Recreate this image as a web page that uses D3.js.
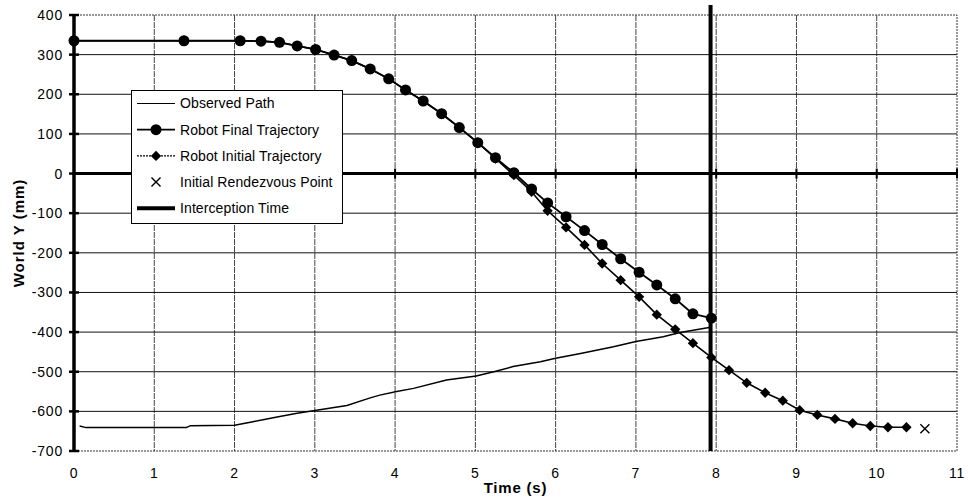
<!DOCTYPE html>
<html>
<head>
<meta charset="utf-8">
<script src="https://cdn.jsdelivr.net/npm/d3@7/dist/d3.min.js"></script>
<style>
  html, body { margin: 0; padding: 0; background: #fff; }
  svg { display: block; font-family: "Liberation Sans", Arial, Helvetica, sans-serif; }
</style>
</head>
<body>
<svg id="chart" width="968" height="499"></svg>
<script>
// Time samples (s) and world Y (mm) for each series
const finalT = [0, 1.37, 2.07, 2.33, 2.56, 2.78, 3.01, 3.24, 3.46, 3.69, 3.92, 4.13, 4.35, 4.58, 4.80, 5.03, 5.25, 5.48, 5.70, 5.90, 6.13, 6.36, 6.58, 6.81, 7.04, 7.26, 7.49, 7.71, 7.94];
const finalY = [335, 335, 335, 334, 331, 322, 313, 299, 285, 264, 239, 211, 183, 151, 116, 78, 40, 2, -39, -74, -109, -144, -179, -215, -249, -281, -316, -354, -365];

const initialT = [0, 1.37, 2.07, 2.33, 2.56, 2.78, 3.01, 3.24, 3.46, 3.69, 3.92, 4.13, 4.35, 4.58, 4.80, 5.03, 5.25, 5.48, 5.70, 5.90, 6.13, 6.36, 6.58, 6.81, 7.04, 7.26, 7.49, 7.71, 7.94, 8.16, 8.38, 8.61, 8.83, 9.04, 9.26, 9.48, 9.70, 9.92, 10.14, 10.37];
const initialY = [335, 335, 335, 334, 331, 322, 313, 299, 285, 264, 239, 211, 183, 151, 116, 78, 38, -4, -46, -94, -136, -180, -227, -269, -311, -356, -393, -428, -464, -496, -528, -553, -573, -597, -609, -619, -630, -637, -640, -640];

const observedT = [0.07, 0.15, 1.40, 1.45, 2.00, 2.23, 2.53, 2.78, 3.02, 3.40, 3.69, 3.81, 4.02, 4.23, 4.64, 5.01, 5.23, 5.47, 5.81, 6.00, 6.31, 6.72, 7.00, 7.34, 7.55, 7.93];
const observedY = [-637, -641, -641, -636, -635, -626, -614, -605, -597, -585, -566, -559, -550, -542, -521, -511, -500, -487, -475, -466, -454, -437, -424, -412, -401, -388];

const rendezvousT = [10.60];
const rendezvousY = [-644];

const interceptT = [7.93, 7.93];
const interceptY = [425, -700];

const xTicks = [0, 1, 2, 3, 4, 5, 6, 7, 8, 9, 10, 11];
const yTicks = [400, 300, 200, 100, 0, -100, -200, -300, -400, -500, -600, -700];

const legendLabels = ["Observed Path", "Robot Final Trajectory", "Robot Initial Trajectory", "Initial Rendezvous Point", "Interception Time"];

const zip = (ts, ys) => ts.map((t, i) => ({ t, y: ys[i] }));

const svg = d3.select("#chart");
const plotL = 74, plotR = 957, plotT = 15, plotB = 451;

const x = d3.scaleLinear().domain([0, 11]).range([plotL, plotR]);
const y = d3.scaleLinear().domain([-700, 400]).range([plotB, plotT]);

// vertical gridlines
svg.append("g").selectAll("line")
  .data(xTicks.filter(d => d > 0 && d < 11))
  .join("line")
  .attr("x1", d => x(d)).attr("x2", d => x(d))
  .attr("y1", plotT).attr("y2", plotB)
  .attr("stroke", "#444").attr("stroke-width", 1)
  .attr("stroke-dasharray", "6,1");

// horizontal gridlines
svg.append("g").selectAll("line")
  .data(yTicks.filter(d => d > -700 && d < 400 && d !== 0))
  .join("line")
  .attr("x1", plotL).attr("x2", plotR)
  .attr("y1", d => y(d)).attr("y2", d => y(d))
  .attr("stroke", "#111").attr("stroke-width", 1);

// plot area border (dotted)
svg.append("rect")
  .attr("x", plotL).attr("y", plotT)
  .attr("width", plotR - plotL).attr("height", plotB - plotT)
  .attr("fill", "none").attr("stroke", "#333").attr("stroke-width", 1)
  .attr("stroke-dasharray", "2,1");

// horizontal axis through zero
svg.append("line")
  .attr("x1", plotL).attr("x2", plotR)
  .attr("y1", y(0)).attr("y2", y(0))
  .attr("stroke", "#000").attr("stroke-width", 3);
svg.append("g").selectAll("line")
  .data(xTicks)
  .join("line")
  .attr("x1", d => x(d)).attr("x2", d => x(d))
  .attr("y1", y(0) - 5).attr("y2", y(0) + 5)
  .attr("stroke", "#000").attr("stroke-width", 2);

// vertical axis
svg.append("line")
  .attr("x1", plotL).attr("x2", plotL)
  .attr("y1", plotT).attr("y2", plotB)
  .attr("stroke", "#000").attr("stroke-width", 3.5);
svg.append("g").selectAll("line")
  .data(yTicks)
  .join("line")
  .attr("x1", plotL - 5).attr("x2", plotL + 5)
  .attr("y1", d => y(d)).attr("y2", d => y(d))
  .attr("stroke", "#000").attr("stroke-width", 2.5);

// tick labels
svg.append("g").selectAll("text")
  .data(yTicks)
  .join("text")
  .attr("x", plotL - 11).attr("y", d => y(d))
  .attr("dy", "0.36em")
  .attr("text-anchor", "end")
  .attr("font-size", 14)
  .attr("letter-spacing", 0.8)
  .text(d => d);

svg.append("g").selectAll("text")
  .data(xTicks)
  .join("text")
  .attr("x", d => x(d)).attr("y", 478)
  .attr("text-anchor", "middle")
  .attr("font-size", 14)
  .attr("letter-spacing", 0.8)
  .text(d => d);

// axis titles
svg.append("text")
  .attr("x", (plotL + plotR) / 2).attr("y", 493)
  .attr("text-anchor", "middle")
  .attr("font-size", 15).attr("font-weight", "bold")
  .attr("letter-spacing", 0.8)
  .text("Time (s)");
svg.append("text")
  .attr("transform", `translate(24,${(plotT + plotB) / 2}) rotate(-90)`)
  .attr("text-anchor", "middle")
  .attr("font-size", 15).attr("font-weight", "bold")
  .attr("letter-spacing", 1)
  .text("World Y (mm)");

const line = d3.line().x(d => x(d.t)).y(d => y(d.y));
const diamond = d3.symbol().type(d3.symbolDiamond2).size(68);
const cross = d3.symbol().type(d3.symbolTimes).size(55);

// observed path
svg.append("path")
  .datum(zip(observedT, observedY))
  .attr("d", line)
  .attr("fill", "none").attr("stroke", "#000").attr("stroke-width", 1.5);

// robot final trajectory
const finalData = zip(finalT, finalY);
svg.append("path")
  .datum(finalData)
  .attr("d", line)
  .attr("fill", "none").attr("stroke", "#000").attr("stroke-width", 1.8);
svg.append("g").selectAll("circle")
  .data(finalData)
  .join("circle")
  .attr("cx", d => x(d.t)).attr("cy", d => y(d.y))
  .attr("r", 5.5).attr("fill", "#000");

// robot initial trajectory
const initialData = zip(initialT, initialY);
svg.append("path")
  .datum(initialData)
  .attr("d", line)
  .attr("fill", "none").attr("stroke", "#000").attr("stroke-width", 1.6);
svg.append("g").selectAll("path")
  .data(initialData)
  .join("path")
  .attr("transform", d => `translate(${x(d.t)},${y(d.y)})`)
  .attr("d", diamond)
  .attr("fill", "#000");

// initial rendezvous point
svg.append("g").selectAll("path")
  .data(zip(rendezvousT, rendezvousY))
  .join("path")
  .attr("transform", d => `translate(${x(d.t)},${y(d.y)})`)
  .attr("d", cross)
  .attr("fill", "none").attr("stroke", "#000").attr("stroke-width", 1.4);

// interception time
svg.append("path")
  .datum(zip(interceptT, interceptY))
  .attr("d", line)
  .attr("fill", "none").attr("stroke", "#000").attr("stroke-width", 4);

// legend
const lg = svg.append("g").attr("transform", "translate(131,90)");
lg.append("rect")
  .attr("x", 0.5).attr("y", 0.5).attr("width", 211).attr("height", 133)
  .attr("fill", "#fff").attr("stroke", "#000").attr("stroke-width", 1);
const rowY = i => 13.5 + i * 26.2;
const sx1 = 6, sx2 = 44, sxm = 25;
legendLabels.forEach((label, i) => {
  const g = lg.append("g").attr("transform", `translate(0,${rowY(i)})`);
  if (i === 0) {
    g.append("line").attr("x1", sx1).attr("x2", sx2).attr("stroke", "#000").attr("stroke-width", 1.2);
  } else if (i === 1) {
    g.append("line").attr("x1", sx1).attr("x2", sx2).attr("stroke", "#000").attr("stroke-width", 1.8);
    g.append("circle").attr("cx", sxm).attr("r", 5.5).attr("fill", "#000");
  } else if (i === 2) {
    g.append("line").attr("x1", sx1).attr("x2", sx2).attr("stroke", "#000").attr("stroke-width", 1.2)
      .attr("stroke-dasharray", "2,1");
    g.append("path").attr("transform", `translate(${sxm},0)`).attr("d", diamond).attr("fill", "#000");
  } else if (i === 3) {
    g.append("path").attr("transform", `translate(${sxm},0)`).attr("d", cross)
      .attr("fill", "none").attr("stroke", "#000").attr("stroke-width", 1.4);
  } else {
    g.append("line").attr("x1", sx1).attr("x2", sx2).attr("stroke", "#000").attr("stroke-width", 4);
  }
  g.append("text")
    .attr("x", 49).attr("dy", "0.35em")
    .attr("font-size", 14)
    .attr("letter-spacing", 0.1)
    .text(label);
});
</script>
</body>
</html>
